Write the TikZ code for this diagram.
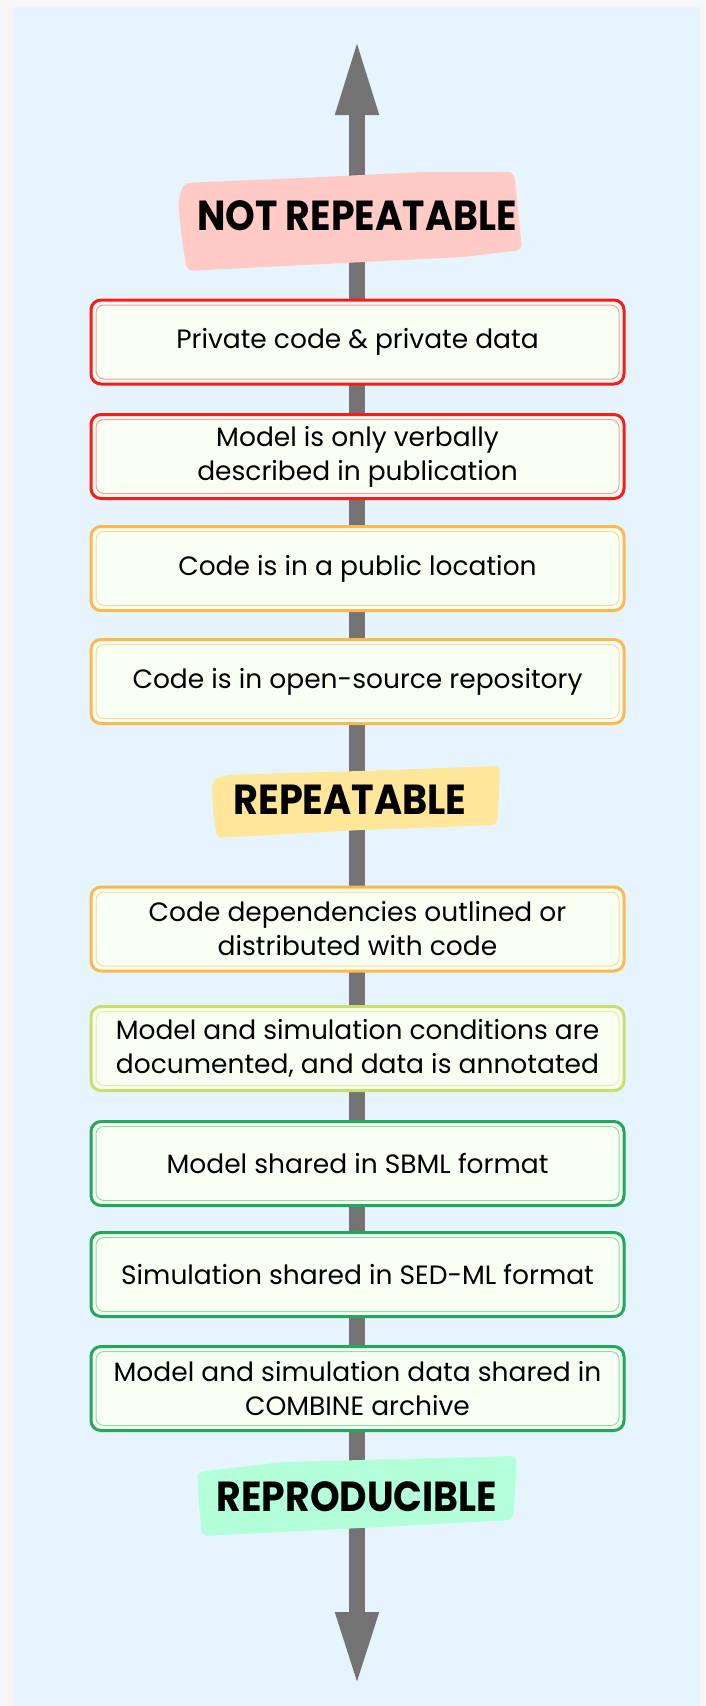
\documentclass[tikz,border=0pt]{standalone}
\usepackage{fontspec}
\usepackage{graphicx}
\usetikzlibrary{arrows.meta}
\newfontfamily\boxfont{Poppins}
\newfontfamily\headfont{Poppins}
\definecolor{outerbg}{HTML}{F6F6F6}
\definecolor{panel}{HTML}{E6F4FE}
\definecolor{arrowgray}{HTML}{737373}
\definecolor{boxfill}{HTML}{F8FFF3}
\definecolor{redO}{HTML}{FF1A1A}
\definecolor{redI}{HTML}{FF9C9C}
\definecolor{orO}{HTML}{FFB850}
\definecolor{orI}{HTML}{FFD79A}
\definecolor{ygO}{HTML}{C6E06B}
\definecolor{ygI}{HTML}{DFEFA3}
\definecolor{grO}{HTML}{22A85B}
\definecolor{grI}{HTML}{93D9AC}
\definecolor{pinkL}{HTML}{FFCBC4}
\definecolor{yellowL}{HTML}{FFE699}
\definecolor{mintL}{HTML}{B3FFD9}
\tikzset{
  stagebox/.style={draw=#1, line width=3pt, fill=boxfill, rounded corners=10pt,
    minimum width=533pt, minimum height=84pt, align=center,
    font=\boxfont\fontsize{26.5}{34}\selectfont, text=black, inner sep=0pt},
  innerline/.style={draw=#1, line width=1pt, rounded corners=8pt},
  headtext/.style={font=\headfont\bfseries\fontsize{42}{42}\selectfont, inner sep=0pt, text=black},
  brush/.style={fill=#1, draw=none, rounded corners=6pt}
}
\newcommand{\mkstage}[5]{%
  \node[stagebox=#3] (#1) at (357.5,#2) {#5};
  \draw[innerline=#4] ([xshift=6.5pt,yshift=-6.5pt]#1.north west) rectangle ([xshift=-6.5pt,yshift=6.5pt]#1.south east);
}
\begin{document}
\begin{tikzpicture}[x=1pt,y=-1pt]
\fill[outerbg] (0,0) rectangle (705,1706);
\useasboundingbox (0,0) rectangle (705,1706);
\fill[panel] (13,7) rectangle (700,1706);
% axis arrow
\coordinate (ttop) at (357,38);
\coordinate (tbot) at (357,1687);
\draw[arrowgray, line width=16pt, {Triangle[length=77pt,width=39pt]}-{Triangle[length=75pt,width=39pt]}] (ttop) -- (tbot);
% stage boxes
\mkstage{b1}{342}{redO}{redI}{Private code \& private data}
\mkstage{b2}{456.5}{redO}{redI}{Model is only verbally\\described in publication}
\mkstage{b3}{568.5}{orO}{orI}{Code is in a public location}
\mkstage{b4}{681.5}{orO}{orI}{Code is in open-source repository}
\mkstage{b5}{929}{orO}{orI}{Code dependencies outlined or\\distributed with code}
\mkstage{b6}{1048.5}{ygO}{ygI}{Model and simulation conditions are\\documented, and data is annotated}
\mkstage{b7}{1163.5}{grO}{grI}{Model shared in SBML format}
\mkstage{b8}{1274.5}{grO}{grI}{Simulation shared in SED-ML format}
\mkstage{b9}{1388.5}{grO}{grI}{Model and simulation data shared in\\COMBINE archive}
% headings
\fill[brush=pinkL] (184,183) -- (300,178) -- (423,172) -- (514,172) -- (518,210) -- (522,250) -- (463,257) -- (187,271) -- (182,240) -- (178,201) -- cycle;
\node[headtext] (hnr) at (357,215.5) {\scalebox{0.9}[1]{NOT REPEATABLE}};
\fill[brush=yellowL] (212,780) -- (227,775) -- (360,771) -- (500,766) -- (499,795) -- (497,825) -- (360,830) -- (217,838) -- (213,810) -- cycle;
\node[headtext] (hrep) at (350,800) {\scalebox{0.91}[1]{REPEATABLE}};
\fill[brush=mintL] (197,1472) -- (283,1462) -- (400,1459) -- (517,1456) -- (515,1490) -- (513,1520) -- (360,1528) -- (202,1536) -- (199,1505) -- cycle;
\node[headtext] (hrepro) at (357,1496.5) {\scalebox{0.9}[1]{REPRODUCIBLE}};
\end{tikzpicture}
\end{document}
